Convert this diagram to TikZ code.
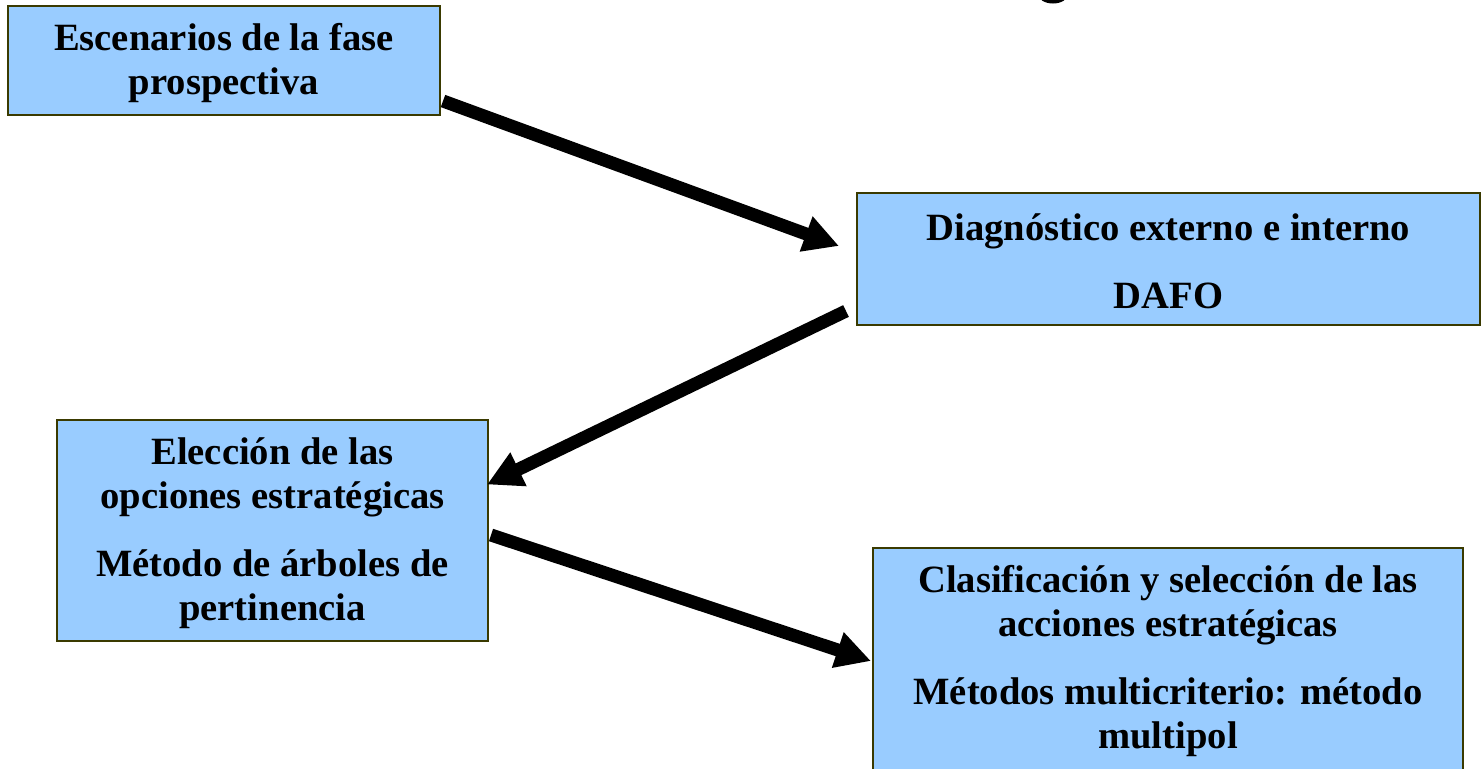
\documentclass[tikz,border=0pt]{standalone}
\usepackage{fontspec}
\setmainfont{Liberation Serif}
\usetikzlibrary{arrows.meta,calc}
\begin{document}
\begin{tikzpicture}[x=0.5pt,y=-0.5pt,
  box/.style={draw=boxborder,line width=1pt,fill=boxfill,rectangle,inner sep=0pt},
  boxtext/.style={inner sep=0pt,align=center,font=\fontsize{19.3pt}{22pt}\selectfont\bfseries},
  bigarrow/.style={line width=6.5pt,-{Triangle[length=17.5pt,width=17.5pt]}}]
\definecolor{boxfill}{HTML}{99CCFF}
\definecolor{boxborder}{HTML}{3A3A00}
\useasboundingbox (0,0) rectangle (1481,768);
\begin{scope}
\clip (0,0) rectangle (1481,768);
\fill[black] (1053,-6) ellipse [x radius=15, y radius=9.5];
\node[box,minimum width=216pt,minimum height=54.5pt] (b1) at (224,60.5) {};
\node[boxtext] (t1) at ($(b1)+(0,3)$) {Escenarios de la fase\\prospectiva};
\node[box,minimum width=311.5pt,minimum height=66pt] (b2) at (1168.5,259) {};
\node[boxtext] (t2) at ($(b2)+(0,2)$) {Diagnóstico externo e interno\\[12pt]DAFO};
\node[box,minimum width=215.5pt,minimum height=110.5pt] (b3) at (272.5,530.5) {};
\node[boxtext] (t3) at ($(b3)+(0,3)$) {Elección de las\\opciones estratégicas\\[12pt]Método de árboles de\\pertinencia};
\node[box,minimum width=295pt,minimum height=111pt] (b4) at (1168,659) {};
\node[boxtext] (t4) at ($(b4)+(0,2)$) {Clasificación y selección de las\\acciones estratégicas\\[12pt]Métodos multicriterio: método\\multipol};
\coordinate (a1s) at ($(b1.south east)+(2,-15)$);
\coordinate (a1e) at ($(b2.west)+(-17,-13)$);
\coordinate (a2s) at ($(b2.west)+(-10,52)$);
\coordinate (a2e) at ($(b3.east)+(-2,-46)$);
\coordinate (a3s) at ($(b3.east)+(2,4.5)$);
\coordinate (a3e) at ($(b4.west)+(-1,2)$);
\draw[bigarrow] (a1s) -- (a1e);
\draw[bigarrow] (a2s) -- (a2e);
\draw[bigarrow] (a3s) -- (a3e);
\end{scope}
\end{tikzpicture}
\end{document}
